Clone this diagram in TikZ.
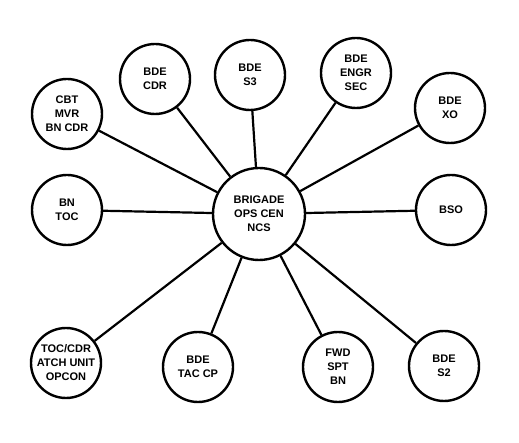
\documentclass[tikz,border=0pt]{standalone}
\usepackage{fontspec}
\setmainfont{Liberation Sans}
\tikzset{
  unit/.style={circle, draw, line width=2.4pt, minimum size=70pt, inner sep=0pt,
    align=center, font=\fontsize{11}{14}\selectfont\bfseries},
  hub/.style={unit, minimum size=92pt},
  link/.style={line width=2.2pt}
}
\begin{document}
\begin{tikzpicture}[x=1pt, y=-1pt]
	\useasboundingbox (0, 0) rectangle (519, 443); %画像の大きさ
	\node[hub] (ops) at (259, 214) {BRIGADE\\OPS CEN\\NCS}; %中央
	\node[unit] (cbt) at (67, 114) {CBT\\MVR\\BN CDR};
	\node[unit] (cdr) at (155, 79) {BDE\\CDR};
	\node[unit] (s3) at (250, 75) {BDE\\S3};
	\node[unit] (engr) at (356, 73) {BDE\\ENGR\\SEC};
	\node[unit] (xo) at (450, 108) {BDE\\XO};
	\node[unit] (toc) at (67, 210) {BN\\TOC};
	\node[unit] (bso) at (451, 210) {BSO};
	\node[unit] (atch) at (66, 363) {TOC/CDR\\ATCH UNIT\\OPCON};
	\node[unit] (tac) at (198, 367) {BDE\\TAC CP};
	\node[unit] (fwd) at (338, 367) {FWD\\SPT\\BN};
	\node[unit] (s2) at (444, 366) {BDE\\S2};
	\foreach \u in {cbt, cdr, s3, engr, xo, toc, bso, atch, tac, fwd, s2}
		\draw[link] (ops) -- (\u); %中央から各円へ
\end{tikzpicture}
\end{document}
